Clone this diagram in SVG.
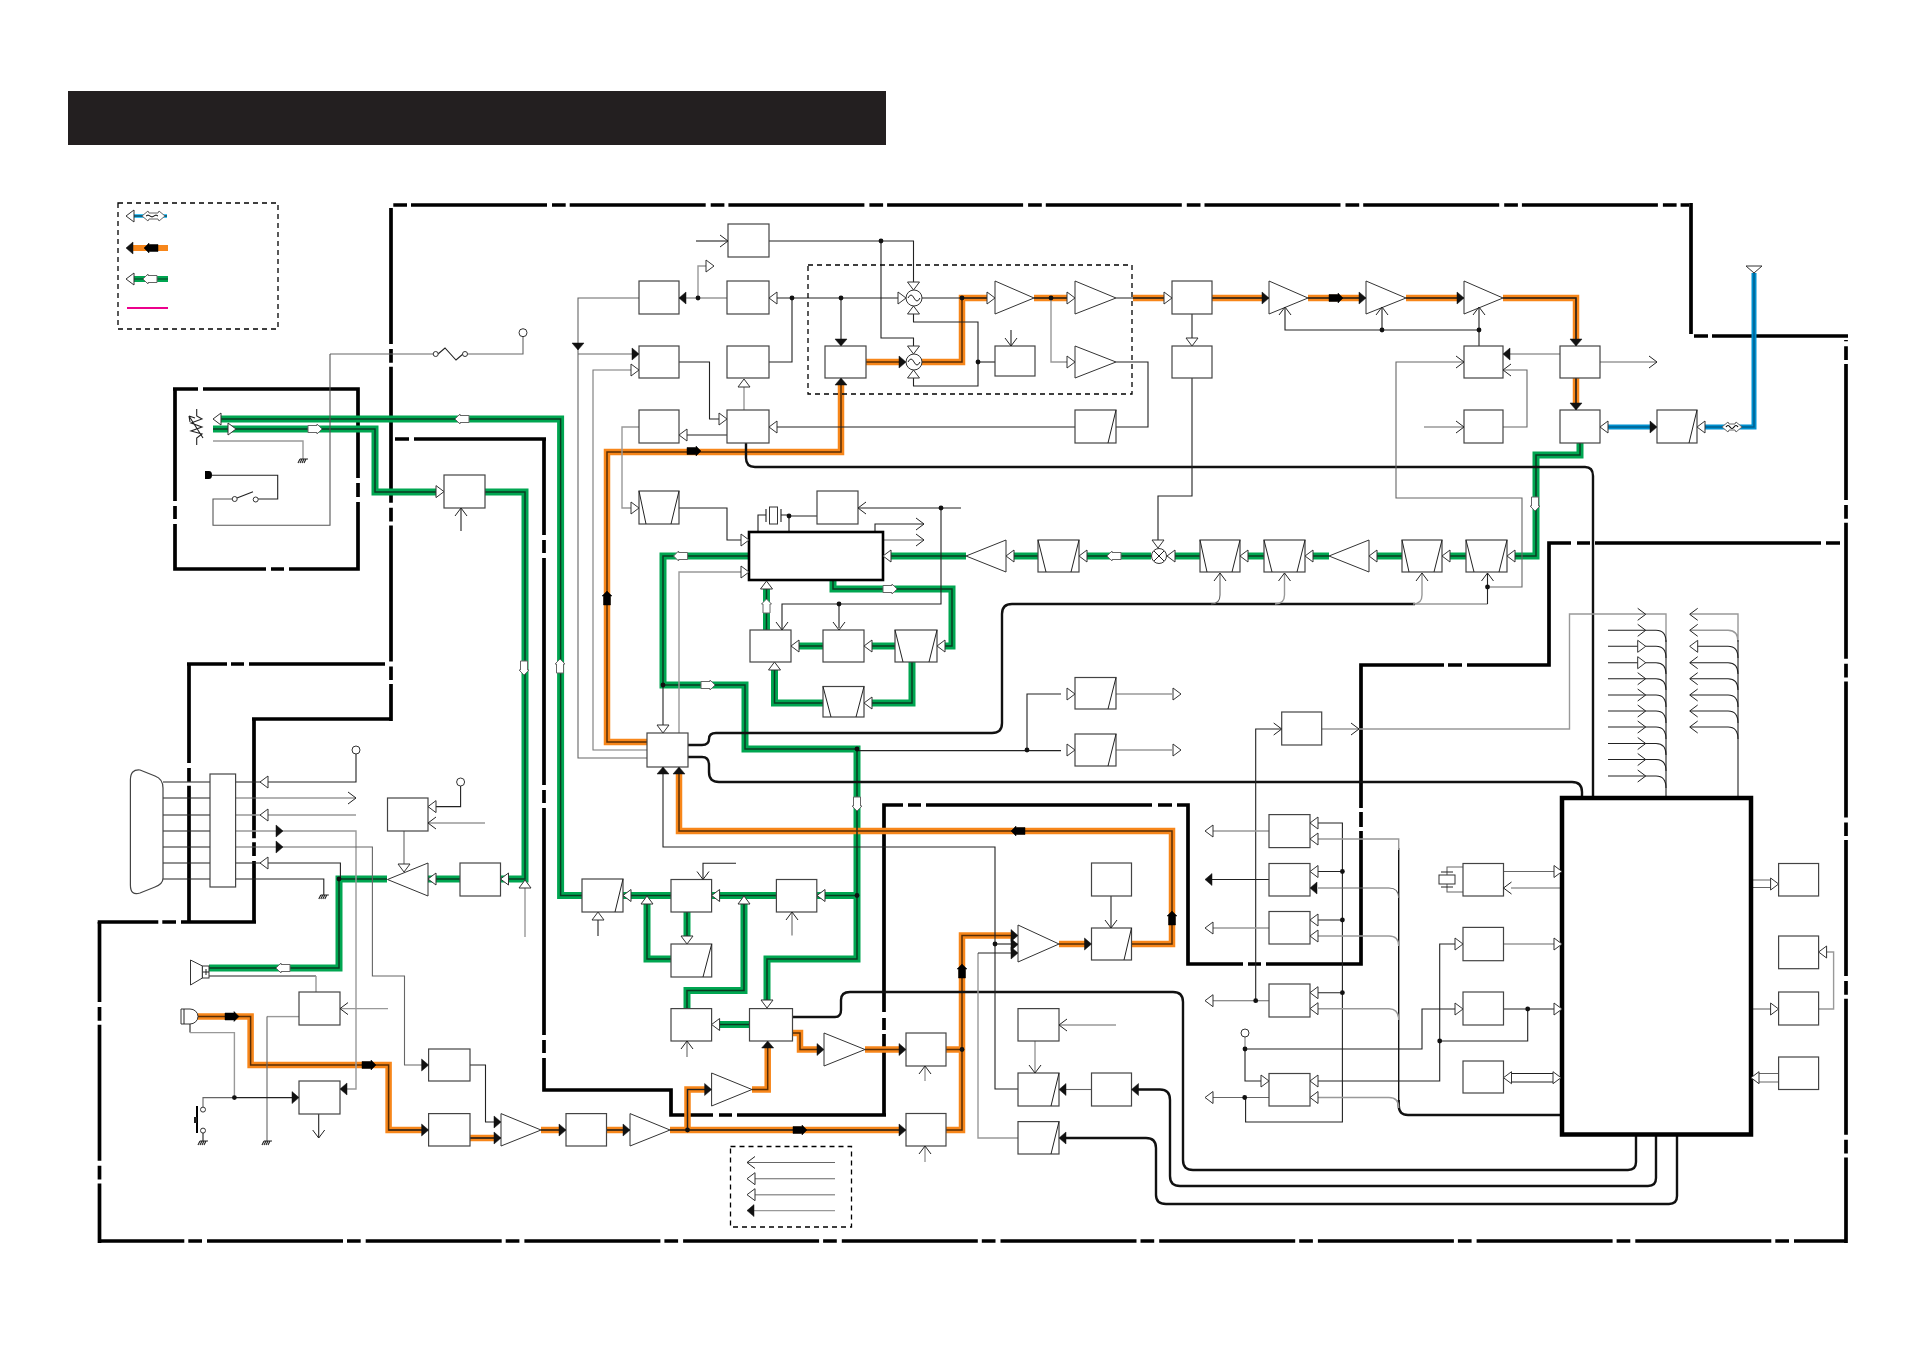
<svg xmlns="http://www.w3.org/2000/svg" width="1910" height="1350" viewBox="0 0 1910 1350">
<style>
.t{stroke:#000;stroke-width:3.7;fill:none}
.w{stroke:#222;stroke-width:1.1;fill:none}
.y{stroke:#999;stroke-width:1.4;fill:none}
.m{stroke:#666;stroke-width:1.1;fill:none}
.k{stroke:#111;stroke-width:2.4;fill:none}
.b{fill:#fff;stroke:#444;stroke-width:1.2}
.a{fill:#fff;stroke:#333;stroke-width:1}
.i{fill:none;stroke:#222;stroke-width:1}
.d{fill:none;stroke:#000;stroke-width:1.3;stroke-dasharray:5 4}
.hh{fill:#fff;stroke:#333;stroke-width:1}
.fh{fill:#111;stroke:#111;stroke-width:.5}
.oh{fill:none;stroke:#222;stroke-width:1}
.bw{fill:#fff;stroke:#666;stroke-width:1}
.bk{fill:#000;stroke:#000;stroke-width:.5}
</style>
<defs>
<polygon id="hr" class="hh" points="0,0 -8,-6 -8,6"/><polygon id="hl" class="hh" points="0,0 8,-6 8,6"/><polygon id="hu" class="hh" points="0,0 -6,8 6,8"/><polygon id="hd" class="hh" points="0,0 -6,-8 6,-8"/>
<polygon id="fr" class="fh" points="0,0 -7,-6 -7,6"/><polygon id="fl" class="fh" points="0,0 7,-6 7,6"/><polygon id="fu" class="fh" points="0,0 -6,7 6,7"/><polygon id="fd" class="fh" points="0,0 -6,-7 6,-7"/>
<polyline id="or" class="oh" points="-8,-6 0,0 -8,6"/><polyline id="ol" class="oh" points="8,-6 0,0 8,6"/><polyline id="ou" class="oh" points="-6,8 0,0 6,8"/><polyline id="od" class="oh" points="-6,-8 0,0 6,-8"/>
<polygon id="wr" class="bw" points="-7,-3.5 2,-3.5 2,-5 7,0 2,5 2,3.5 -7,3.5"/><polygon id="wl" class="bw" points="7,-3.5 -2,-3.5 -2,-5 -7,0 -2,5 -2,3.5 7,3.5"/><polygon id="wu" class="bw" points="-3.5,7 -3.5,-2 -5,-2 0,-7 5,-2 3.5,-2 3.5,7"/><polygon id="wd" class="bw" points="-3.5,-7 -3.5,2 -5,2 0,7 5,2 3.5,2 3.5,-7"/>
<polygon id="kr" class="bk" points="-7,-3.5 2,-3.5 2,-5 7,0 2,5 2,3.5 -7,3.5"/><polygon id="kl" class="bk" points="7,-3.5 -2,-3.5 -2,-5 -7,0 -2,5 -2,3.5 7,3.5"/><polygon id="ku" class="bk" points="-3.5,7 -3.5,-2 -5,-2 0,-7 5,-2 3.5,-2 3.5,7"/>
<circle id="dot" r="2.4" fill="#111"/>
<path id="gnd" class="w" d="M-3,0H5M-3,0L-5,4M-1,0L-3,4M1,0L-1,4M3,0L1,4"/>
<g id="gp">
<path d="M220,419H560.6V895.5H582"/><path d="M213,429H375V492H437"/><path d="M485,492H525V879H500"/><path d="M460,879H428"/><path d="M387,879H339V968H209"/>
<path d="M623,895.5H671"/><path d="M711,895.5H776"/><path d="M817,895.5H857"/><path d="M749,556H663V685H745V749H857V959H767V1002"/>
<path d="M687,912V938"/><path d="M647,902V959H671"/><path d="M687,1008V990.6H744V902"/><path d="M749.5,1024.5H718"/>
<path d="M833,580V589H952V646H944"/><path d="M895,646H871"/><path d="M823,646H798"/><path d="M912,662V703H871"/><path d="M823,703H774.5V668"/><path d="M766.5,630V587"/>
<path d="M891,556H966"/><path d="M1013,556H1038"/><path d="M1086,556H1151"/><path d="M1173,556H1200"/><path d="M1247,556H1264"/><path d="M1312,556H1329"/><path d="M1376,556H1402"/><path d="M1449,556H1466"/><path d="M1514,556H1536V455H1580V443"/>
</g>
<g id="op">
<path d="M866,362H899"/><path d="M922,362H962V298H987"/><path d="M1034,298H1068"/><path d="M1133,298H1165"/><path d="M1212,298H1262"/><path d="M1308,298H1359"/><path d="M1406,298H1457"/><path d="M1503,298H1576V340"/><path d="M1576,378V404"/>
<path d="M841,385V452H607V742H647"/><path d="M679,774V831H1172V944H1131"/><path d="M1059,944H1085"/>
<path d="M197,1016.5H250.6V1065H388.6V1130H422"/><path d="M470,1138H495"/><path d="M541,1130H560"/><path d="M606,1130H624"/><path d="M670,1130H900"/><path d="M687.5,1130V1089.5H705"/><path d="M752,1089.5H767.7V1048"/>
<path d="M792.6,1033H800V1049.5H818"/><path d="M865,1049.5H900"/><path d="M946,1049.5H962"/><path d="M946,1130H962V935.5H1012"/>
</g>
<g id="bp"><path d="M1607,427H1650"/><path d="M1704,427H1754V273"/></g>
</defs>

<rect id="titlebar" x="68" y="91" width="818" height="54" fill="#231f20"/>

<g id="frames">
<path class="t" stroke-dasharray="136 5 13.7 4" stroke-dashoffset="138.7" d="M391,205H1689"/>
<path class="t" d="M1691,203V334"/>
<path class="t" d="M1694,336H1708M1712,336H1848"/>
<path class="t" stroke-dasharray="136 5 13.7 4" stroke-dashoffset="-24" d="M1846,340V1243"/>
<path class="t" stroke-dasharray="136 5 13.7 4" stroke-dashoffset="84" d="M1846,1241H99.5"/>
<path class="t" stroke-dasharray="136 5 13.7 4" stroke-dashoffset="56" d="M99.5,922V1243"/>
<path class="t" stroke-dasharray="136 5 13.7 4" stroke-dashoffset="61" d="M256,922H97.7"/>
<path class="t" stroke-dasharray="136 5 13.7 4" stroke-dashoffset="75" d="M254,922V719"/>
<path class="t" d="M252,719H391"/>
<path class="t" stroke-dasharray="136 5 13.7 4" d="M391,208V721"/>
<path class="t" d="M385,664H249M244,664H231M227,664H187"/>
<path class="t" stroke-dasharray="136 5 13.7 4" stroke-dashoffset="37" d="M189,664V924"/>
<path class="t" d="M198,389H173M175,389V501M175,506V519M175,524V569H266M271,569H284M289,569H358V502M358,497V483M358,478V389H203"/>
<path class="t" d="M395,439H409M414,439H546M544,439V535M544,540V553M544,558V785M544,790V803M544,808V1035M544,1040V1053M544,1058V1090H671V1115H713M719,1115H732M737,1115H886M884,1115V1034M884,1030V1018M884,1012V805H903M908,805H921M926,805H1152M1158,805H1172M1177,805H1188V964H1243M1248,964H1261M1266,964H1361V831M1361,827V812M1361,808V665H1444M1448,665H1462M1467,665H1549V543H1571M1577,543H1590M1595,543H1821M1826,543H1840"/>
</g>

<g id="connectors">
<use href="#gp" stroke="#00a651" stroke-width="7" fill="none"/>
<use href="#op" stroke="#f7861a" stroke-width="6.5" fill="none"/>
<use href="#bp" stroke="#0090d0" stroke-width="5" fill="none"/>
<use href="#gp" stroke="#0b3b22" stroke-width="1.5" fill="none"/>
<use href="#op" stroke="#5a2e05" stroke-width="1.5" fill="none"/>
<use href="#bp" stroke="#00608f" stroke-width="1.5" fill="none"/>

<path d="M130,216H167" stroke="#00aeef" stroke-width="3.5" fill="none"/><path d="M130,216H167" class="w"/>
<path d="M132,248H168" stroke="#f7861a" stroke-width="6" fill="none"/>
<path d="M132,279H168" stroke="#00a651" stroke-width="6" fill="none"/><path d="M132,279H168" stroke="#0b3b22" stroke-width="1.2" fill="none"/>
<path d="M127,308H168" stroke="#ec008c" stroke-width="2" fill="none"/>

<path class="k" d="M746,443V458Q746,467 755,467H1585Q1593,467 1593,476V798"/>
<path class="k" d="M688,745H702Q709,745 709,739Q709,733 716,733H992Q1002,733 1002,723V614Q1002,604 1012,604H1415"/>
<path class="k" d="M688,757H702Q709,757 709,765V772Q709,782 719,782H1572Q1582,782 1582,792V798"/>
<path class="k" d="M792,1017H835Q841,1017 841,1010V1000Q841,992 850,992H1173Q1183,992 1183,1002V1160Q1183,1170 1193,1170H1628Q1636,1170 1636,1162V1134"/>
<path class="k" d="M1138,1089.5H1160Q1170,1089.5 1170,1100V1176Q1170,1186 1180,1186H1648Q1656,1186 1656,1178V1134"/>
<path class="k" d="M1066,1138H1146Q1156,1138 1156,1148V1195Q1156,1204 1166,1204H1669Q1677,1204 1677,1196V1134"/>
<path d="M1398.7,848V1105" stroke="#111" stroke-width="1.4" fill="none"/><path class="k" d="M1398.7,1100V1105Q1398.7,1115 1408,1115H1562"/>

<path class="w" d="M696,241H728"/><path class="w" d="M769,241H913.5V284"/><path class="w" d="M881,241V338H913.5V348"/>
<path class="w" d="M769,298H906"/><path class="w" d="M792,298V362H769"/><path class="w" d="M841,298V340"/>
<path class="w" d="M913.5,306V322H978V386H913.5V378"/><path class="w" d="M978,362H995"/><path class="w" d="M1011,330V346"/>
<path class="w" d="M922,298H995"/><path class="w" d="M1034,298H1075"/><path class="y" d="M1051,298V362H1068"/><path class="w" d="M1116,298H1172"/>
<path class="w" d="M1116,362H1148V427H1116"/><path class="w" d="M1075,427H775"/>
<path class="y" d="M744,410V386"/><path class="w" d="M727,435H687"/><path class="w" d="M679,362H709.5V419H720"/>
<path class="m" d="M727,298H679"/><path class="y" d="M698,298V266H706"/><path class="m" d="M639,298H578V758H647"/>
<path class="m" d="M578,354H634"/><path class="w" d="M639,370H593V750H647" style="stroke:#777"/>
<path class="y" d="M639,427H622V508H632"/><path class="w" d="M679,508H727V540H742"/>
<path class="w" d="M758,532V515H766M781,515H789V532M789,516H817"/>
<path class="w" d="M858,508H961"/><path class="w" d="M941,508V604H782V632"/><path class="w" d="M839,604V628"/>
<path class="w" d="M875,532V524H924"/><path class="y" d="M883,540H924"/>
<path class="y" d="M749,572H679V733"/><path class="w" d="M663,685V725"/>
<path class="w" d="M1192,314V340"/><path class="w" d="M1192,378V496H1158V541"/>
<path class="w" d="M1212,298H1269M1308,298H1366M1406,298H1464M1503,298H1576V346M1576,378V410"/>
<path class="w" d="M1285,308V330H1479V346M1382,308V330M1479,308V330"/>
<path class="m" d="M1464,362H1396V498H1522V587H1487.5"/>
<path class="m" d="M1503,370H1527V427H1503"/><path class="y" d="M1424,427H1464"/>
<path class="y" d="M1560,354H1510"/><path class="m" d="M1600,362H1657"/>
<path class="m" d="M1220,573V595Q1220,604 1211,604"/><path class="y" d="M1284.5,573V595Q1284.5,604 1275,604"/><path class="y" d="M1422,573V595Q1422,604 1413,604"/><path class="y" d="M1415,604H1487.5"/><path class="w" d="M1487.5,573V604"/>

<path class="m" d="M330,354H433M468,354H523V337"/><path class="w" d="M330,354V525.3H213V499H232" style="stroke:#555"/>
<path class="w" d="M253,491.7L237,498"/><path class="w" d="M258,499H277.7V475.3H212"/>
<path class="y" d="M213,441H303V459"/>
<path class="w" d="M438,354L445,348L456,360L463,354"/>
<path class="w" d="M196.7,409V416L202,419L191,423L202,427L191,431L202,434L196.7,438V445M203,438L189,416M189,416L190,422M189,416L195,418"/>
<path class="w" d="M461,531V508"/>
<path class="y" d="M525,937V887"/>
<path class="w" d="M163,782H210M163,798H210M163,815H210M163,831H210M163,847H210M163,863H210M163,879H210"/>
<path class="w" d="M235.6,782H356V754"/><path class="m" d="M235.6,798H356"/><path class="y" d="M235.6,815H356"/>
<path class="y" d="M235.6,831H356V1089H347"/><path class="m" d="M235.6,847H372.4V976H404.5V1065H422"/>
<path class="w" d="M235.6,863H340.4V879"/><path class="w" d="M235.6,879H323.8V895"/>
<path class="w" d="M428,806.6H460.6V786"/><path class="y" d="M428,823H485"/><path class="m" d="M404,831V864"/>
<path class="w" d="M209,976H316"/><path class="y" d="M316,976V992"/><path class="y" d="M340,1008.6H388"/><path class="y" d="M299,1016.6H267"/><path class="m" d="M267,1016.6V1141.6"/>
<path class="w" d="M190,1024V1032.6"/><path class="y" d="M190,1032.6H234.4V1097.6"/><path class="m" d="M234.4,1097.6H203V1107"/><path class="w" d="M234.4,1097.6H292"/><path class="w" d="M203,1133V1141.6"/>
<path class="w" d="M318.7,1114V1138"/><path class="w" d="M470,1065H485.5V1122H495"/><path class="w" d="M470,1138H501"/>
<path class="w" d="M388.6,1130H428M541,1130H566M606,1130H630M670,1130H906"/>
<path class="w" d="M687.5,1130V1089.5H711"/>

<path class="w" d="M663,767V847H995V1089H1018"/><path class="w" d="M995,944H1018"/><path class="y" d="M978,953V1138H1018"/><path class="w" d="M978,953H1012"/>
<path class="w" d="M1111,896V928"/><path class="y" d="M1116,1025H1059"/><path class="y" d="M1035,1041V1073"/><path class="m" d="M1091,1089.5H1066"/>
<path class="w" d="M857,750.6H1061"/><path class="w" d="M1027,750V694H1061"/><path class="y" d="M1116,694H1172"/><path class="m" d="M1116,750H1172"/>
<path class="w" d="M736,863.3H703V879"/>
<path class="w" d="M598,936V920"/><path class="m" d="M792,935.5V912"/><path class="m" d="M687,1057V1041"/><path class="y" d="M925,1081V1066"/><path class="y" d="M925,1162V1146"/>
<path class="m" d="M835,1162.5H747"/><path class="m" d="M835,1178.7H752"/><path class="y" d="M835,1194.7H752"/><path class="y" d="M835,1210.6H752"/>

<path class="w" d="M1281.7,729H1255.7V1000.7"/><path class="m" d="M1321.7,729H1359"/><path class="y" d="M1359,729H1569.5V614H1645"/>
<path class="y" d="M1269,831H1210"/><path class="w" d="M1269,879.5H1212"/><path class="y" d="M1269,928H1210"/><path class="m" d="M1269,1000.7H1210"/><path class="m" d="M1269,1097.5H1210"/>
<path class="w" d="M1318,823H1342.4V1122H1245.6V1097.5"/><path class="w" d="M1342.4,871.5H1318M1342.4,920H1318M1342.4,992.7H1318"/>
<path class="y" d="M1318,839H1398.7V850"/><path class="m" d="M1318,888H1389Q1398.7,888 1398.7,898"/><path class="y" d="M1318,936H1389Q1398.7,936 1398.7,946"/><path class="y" d="M1318,1008.7H1389Q1398.7,1008.7 1398.7,1020"/><path class="y" d="M1318,1097.5H1389Q1398.7,1097.5 1398.7,1108"/>
<path class="y" d="M1245,1037V1049"/><path class="w" d="M1245,1049H1422V1009H1456"/><path class="w" d="M1245,1049V1081H1261"/>
<path class="w" d="M1318,1081H1439.7V944H1456"/><path class="w" d="M1439.7,1041H1527.7V1009"/>
<path class="m" d="M1503.5,871.5H1555"/><path class="m" d="M1562,888H1511"/><path class="m" d="M1503.5,944H1555"/><path class="w" d="M1503.5,1009H1555"/>
<path class="w" d="M1510,1073.5H1554M1510,1082H1554"/>
<path class="m" d="M1463,867H1447V875M1463,892H1447V884"/>
<path class="m" d="M1751,880H1771M1751,887.5H1771"/><path class="m" d="M1751,1009H1771"/><path class="y" d="M1818.6,1009H1833.6V952H1826"/>
<path class="m" d="M1778.6,1073.5H1758M1778.6,1082H1758"/>
<path class="y" d="M1645,614H1666V640"/><path class="w" d="M1666,640V798"/>
<path class="w" d="M1608,630.3H1656Q1666,630.3 1666,642M1608,646.3H1656Q1666,646.3 1666,658M1608,662.7H1656Q1666,662.7 1666,674M1608,678.7H1656Q1666,678.7 1666,690M1608,695H1656Q1666,695 1666,707M1608,711H1656Q1666,711 1666,723M1608,727H1656Q1666,727 1666,739M1608,743.5H1656Q1666,743.5 1666,755M1608,759.5H1656Q1666,759.5 1666,771M1608,776H1656Q1666,776 1666,788"/>
<path class="y" d="M1690,614H1738V640M1690,630.3H1728Q1738,630.3 1738,642"/><path class="w" d="M1738,640V798"/>
<path class="w" d="M1696,646.3H1728Q1738,646.3 1738,658M1690,662.7H1728Q1738,662.7 1738,674M1690,678.7H1728Q1738,678.7 1738,690M1690,695H1728Q1738,695 1738,707M1690,711H1728Q1738,711 1738,723M1690,727H1728Q1738,727 1738,739"/>

<circle class="a" cx="523" cy="332.7" r="4"/><circle class="a" cx="356" cy="750" r="4"/><circle class="a" cx="460.6" cy="782" r="4"/><circle class="a" cx="1245" cy="1033" r="4"/>
<circle class="a" cx="435.7" cy="354" r="2.5"/><circle class="a" cx="465" cy="354" r="2.5"/><circle class="a" cx="234.7" cy="499" r="2.5"/><circle class="a" cx="255.7" cy="499.5" r="2.5"/>
<circle class="a" cx="203" cy="1109.6" r="2.5"/><circle class="a" cx="203" cy="1130.6" r="2.5"/>
<path d="M205,471H209Q212,471 212,475Q212,479 209,479H205Z" fill="#000"/>
<path d="M197,1106V1133" stroke="#000" stroke-width="2" fill="none"/><rect x="194" y="1117" width="3" height="6" fill="#222"/>
<use href="#gnd" x="303" y="459"/><use href="#gnd" x="323.8" y="895"/><use href="#gnd" x="267" y="1141"/><use href="#gnd" x="203" y="1141"/>
<path d="M1754,273L1746,266H1762Z" class="a"/>

<g>
<use href="#dot" x="881" y="241"/><use href="#dot" x="792" y="298"/><use href="#dot" x="841" y="298"/><use href="#dot" x="698" y="298"/><use href="#dot" x="962" y="298"/><use href="#dot" x="1051" y="298"/><use href="#dot" x="978" y="362"/><use href="#dot" x="1382" y="330"/><use href="#dot" x="1479" y="330"/><use href="#dot" x="1487.5" y="587"/>
<use href="#dot" x="941" y="508"/><use href="#dot" x="789" y="516"/><use href="#dot" x="839" y="604"/><use href="#dot" x="663" y="685"/><use href="#dot" x="857" y="749"/><use href="#dot" x="1027" y="750"/><use href="#dot" x="857" y="895.5"/>
<use href="#dot" x="339" y="879"/><use href="#dot" x="234.4" y="1097.6"/><use href="#dot" x="687.5" y="1130"/><use href="#dot" x="962" y="1049.5"/><use href="#dot" x="995" y="944"/>
<use href="#dot" x="1342.4" y="871.5"/><use href="#dot" x="1342.4" y="920"/><use href="#dot" x="1342.4" y="992.7"/><use href="#dot" x="1255.7" y="1000.7"/><use href="#dot" x="1245" y="1049"/><use href="#dot" x="1244.7" y="1097.5"/><use href="#dot" x="1439.7" y="1041"/><use href="#dot" x="1527.7" y="1009"/>
</g>
</g>

<g id="legend"><rect class="d" x="118" y="203" width="160" height="126"/></g>
<g id="dashed-section"><rect class="d" x="808" y="265" width="324" height="129"/></g>
<g id="dashed-key"><rect class="d" x="730.5" y="1146.5" width="121" height="80.5"/></g>

<g id="n1"><rect class="b" x="728" y="224" width="41" height="33"/></g>
<g id="n2"><rect class="b" x="639" y="281" width="40" height="33"/></g>
<g id="n3"><rect class="b" x="727" y="281" width="42" height="33"/></g>
<g id="n4"><rect class="b" x="639" y="346" width="40" height="32"/></g>
<g id="n5"><rect class="b" x="727" y="346" width="42" height="32"/></g>
<g id="n6"><rect class="b" x="639" y="410" width="40" height="33"/></g>
<g id="n7"><rect class="b" x="727" y="410" width="42" height="33"/></g>
<g id="n8"><rect class="b" x="825" y="346" width="41" height="32"/></g>
<g id="n9"><rect class="b" x="995" y="346" width="40" height="30"/></g>
<g id="mix1"><circle class="a" cx="914" cy="298" r="8"/><path class="i" d="M908,298Q911,292 914,298T920,298"/></g>
<g id="mix2"><circle class="a" cx="914" cy="362" r="8"/><path class="i" d="M908,362Q911,356 914,362T920,362"/></g>
<g id="amp1"><polygon class="a" points="995,281 1034,298 995,314"/></g>
<g id="amp2"><polygon class="a" points="1075,281 1116,298 1075,314"/></g>
<g id="amp3"><polygon class="a" points="1075,346 1116,362 1075,378"/></g>
<g id="n10"><rect class="b" x="1075" y="410" width="41" height="33"/><path class="i" d="M1116,410L1108,443"/></g>
<g id="t1"><rect class="b" x="639" y="491" width="40" height="33"/><path class="i" d="M639,491L646,524M679,491L671,524"/></g>
<g id="n11"><rect class="b" x="817" y="491" width="41" height="33"/></g>
<g id="ic1"><rect x="749" y="532" width="134" height="48" fill="#fff" stroke="#000" stroke-width="2.6"/></g>
<g id="xtal1"><rect class="a" x="769.5" y="507" width="8" height="17"/><path class="w" d="M766,509V522M781,509V522"/></g>
<g id="amp4"><polygon class="a" points="1006,540 966,556 1006,572"/></g>
<g id="t2"><rect class="b" x="1038" y="540" width="41" height="32"/><path class="i" d="M1038,540L1046,572M1079,540L1071,572"/></g>
<g id="mix3"><circle class="a" cx="1159" cy="556" r="7.5"/><path class="i" d="M1154,551L1164,561M1164,551L1154,561"/></g>
<g id="n12"><rect class="b" x="1172" y="281" width="40" height="33"/></g>
<g id="n13"><rect class="b" x="1172" y="346" width="40" height="32"/></g>
<g id="amp5"><polygon class="a" points="1269,281 1308,298 1269,314"/></g>
<g id="amp6"><polygon class="a" points="1366,281 1406,298 1366,314"/></g>
<g id="amp7"><polygon class="a" points="1464,281 1503,298 1464,314"/></g>
<g id="n14"><rect class="b" x="1464" y="346" width="39" height="32"/></g>
<g id="n15"><rect class="b" x="1560" y="346" width="40" height="32"/></g>
<g id="n16"><rect class="b" x="1464" y="410" width="39" height="33"/></g>
<g id="n17"><rect class="b" x="1560" y="410" width="40" height="33"/></g>
<g id="n18"><rect class="b" x="1657" y="410" width="40" height="33"/><path class="i" d="M1697,410L1689,443"/></g>
<g id="t3"><rect class="b" x="1200" y="540" width="40" height="32"/><path class="i" d="M1200,540L1207,572M1240,540L1232,572"/></g>
<g id="t4"><rect class="b" x="1264" y="540" width="41" height="32"/><path class="i" d="M1264,540L1272,572M1305,540L1297,572"/></g>
<g id="amp8"><polygon class="a" points="1369,540 1329,556 1369,572"/></g>
<g id="t5"><rect class="b" x="1402" y="540" width="40" height="32"/><path class="i" d="M1402,540L1409,572M1442,540L1434,572"/></g>
<g id="t6"><rect class="b" x="1466" y="540" width="41" height="32"/><path class="i" d="M1466,540L1474,572M1507,540L1499,572"/></g>
<g id="c1"><rect class="b" x="750" y="630" width="41" height="32"/></g>
<g id="c2"><rect class="b" x="823" y="630" width="41" height="32"/></g>
<g id="t7"><rect class="b" x="895" y="630" width="42" height="32"/><path class="i" d="M895,630L903,662M937,630L929,662"/></g>
<g id="t8"><rect class="b" x="823" y="686.5" width="41" height="30.5"/><path class="i" d="M823,686.5L831,717M864,686.5L856,717"/></g>
<g id="s1"><rect class="b" x="1075" y="677.5" width="41" height="31.5"/><path class="i" d="M1116,677.5L1108,709"/></g>
<g id="s2"><rect class="b" x="1075" y="734" width="41" height="32"/><path class="i" d="M1116,734L1108,766"/></g>
<g id="n20"><rect class="b" x="647" y="733" width="41" height="34"/></g>
<g id="n21"><rect class="b" x="444" y="475" width="41" height="33"/></g>
<g id="n22"><rect class="b" x="460" y="863" width="40.5" height="33"/></g>
<g id="amp9"><polygon class="a" points="428,863 387.5,879.5 428,896"/></g>
<g id="n23"><rect class="b" x="387.5" y="798" width="40.5" height="33"/></g>
<g id="s3"><rect class="b" x="582" y="879" width="41" height="33"/><path class="i" d="M623,879L615,912"/></g>
<g id="n24"><rect class="b" x="671" y="879.5" width="40.6" height="32.5"/></g>
<g id="n25"><rect class="b" x="776.4" y="879.5" width="40.4" height="32.5"/></g>
<g id="s4"><rect class="b" x="671" y="944" width="40.7" height="33"/><path class="i" d="M711.7,944L703,977"/></g>
<g id="n26"><rect class="b" x="671" y="1008.6" width="40.6" height="32.4"/></g>
<g id="n27"><rect class="b" x="749.5" y="1008.6" width="43" height="32.4"/></g>
<g id="amp10"><polygon class="a" points="711.6,1073 752,1089.5 711.6,1106"/></g>
<g id="amp11"><polygon class="a" points="824,1033 865,1049.5 824,1066"/></g>
<g id="n28"><rect class="b" x="906" y="1033" width="40" height="33"/></g>
<g id="n29"><rect class="b" x="906" y="1113.5" width="40" height="32.5"/></g>
<g id="amp12"><polygon class="a" points="1018,925 1059,944 1018,962"/></g>
<g id="s5"><rect class="b" x="1091.5" y="928" width="40" height="32"/><path class="i" d="M1131.5,928L1124,960"/></g>
<g id="n30"><rect class="b" x="1091.5" y="863" width="40" height="33"/></g>
<g id="n31"><rect class="b" x="1018" y="1008.6" width="41" height="32.4"/></g>
<g id="s6"><rect class="b" x="1018" y="1073" width="41" height="33"/><path class="i" d="M1059,1073L1051,1106"/></g>
<g id="s7"><rect class="b" x="1018" y="1121.6" width="41" height="32.4"/><path class="i" d="M1059,1121.6L1051,1154"/></g>
<g id="n32"><rect class="b" x="1091.5" y="1073" width="40" height="33"/></g>
<g id="n33"><rect class="b" x="428.6" y="1049" width="41.4" height="32"/></g>
<g id="n34"><rect class="b" x="428.6" y="1113.6" width="41.4" height="32.4"/></g>
<g id="amp13"><polygon class="a" points="501,1113.6 541,1130 501,1146"/></g>
<g id="n35"><rect class="b" x="566" y="1113.6" width="40.5" height="32.4"/></g>
<g id="amp14"><polygon class="a" points="630,1113.6 670,1130 630,1146"/></g>
<g id="n36"><rect class="b" x="299" y="992" width="41" height="33"/></g>
<g id="n37"><rect class="b" x="299" y="1081" width="41" height="33"/></g>
<g id="connector-shell"><path class="b" d="M140,770L155,776Q163,779 163,788V878Q163,884 155,887L140,893Q130.4,896 130.4,885V780Q130.4,769 140,770Z"/></g>
<g id="connector-block"><rect class="b" x="210" y="774" width="25.6" height="113"/></g>
<g id="speaker"><polygon class="a" points="190.5,960 202.4,966 202.4,978 190.5,985"/><rect class="a" x="202.4" y="966" width="6.6" height="12"/><path class="i" d="M203,972H209M206,969V975"/></g>
<g id="mic"><path class="a" d="M181,1009H190A8,7.5 0 0 1 190,1024H181Z"/><path class="i" d="M184,1009V1024"/></g>
<g id="n40"><rect class="b" x="1281.7" y="712" width="40" height="33"/></g>
<g id="n41"><rect class="b" x="1269" y="814.6" width="41" height="33"/></g>
<g id="n42"><rect class="b" x="1269" y="863.5" width="41" height="32.5"/></g>
<g id="n43"><rect class="b" x="1269" y="911.5" width="41" height="32.5"/></g>
<g id="n44"><rect class="b" x="1269" y="984" width="41" height="33"/></g>
<g id="n45"><rect class="b" x="1269" y="1073.5" width="41" height="32.5"/></g>
<g id="n46"><rect class="b" x="1463" y="863.5" width="40.5" height="32.5"/></g>
<g id="n47"><rect class="b" x="1463" y="927.4" width="40.5" height="33.3"/></g>
<g id="n48"><rect class="b" x="1463" y="992" width="40.5" height="33"/></g>
<g id="n49"><rect class="b" x="1463" y="1061" width="40.5" height="32"/></g>
<g id="xtal2"><rect class="a" x="1439" y="875" width="16" height="9"/><path class="i" d="M1441,872H1453M1441,887H1453"/></g>
<g id="mcu"><rect x="1562" y="798" width="189" height="336.5" fill="#fff" stroke="#000" stroke-width="4.5"/></g>
<g id="n50"><rect class="b" x="1778.6" y="863.5" width="40" height="32.5"/></g>
<g id="n51"><rect class="b" x="1778.6" y="936" width="40" height="32.7"/></g>
<g id="n52"><rect class="b" x="1778.6" y="992" width="40" height="33"/></g>
<g id="n53"><rect class="b" x="1778.6" y="1057" width="40" height="32.5"/></g>

<g id="arrowheads">
<use href="#hl" x="126" y="216"/><use href="#fl" x="126" y="248"/><use href="#hl" x="126" y="279"/>
<use href="#kl" x="151" y="248"/><use href="#wl" x="150" y="279"/>
<polygon class="bw" points="142,216 148,211 149,213 158,213 159,211 165,216 159,221 158,219 149,219 148,221"/><path d="M146,216q2,-2 4,0t4,0t4,0" fill="none" stroke="#000" stroke-width="1"/>
<polygon class="bw" points="1722,427 1728,422 1729,424 1735,424 1736,422 1742,427 1736,432 1735,430 1729,430 1728,432"/><path d="M1726,427q2,-3 4,0t4,0t4,0" fill="none" stroke="#000" stroke-width="1.2"/>

<use href="#or" x="728" y="241"/><use href="#hd" x="913.5" y="290"/><use href="#hu" x="913.5" y="306"/><use href="#hr" x="906" y="298"/>
<use href="#hd" x="913.5" y="354"/><use href="#hu" x="913.5" y="370"/><use href="#fr" x="906" y="362"/>
<use href="#hr" x="995" y="298"/><use href="#hr" x="1075" y="298"/><use href="#hr" x="1075" y="362"/><use href="#hr" x="1172" y="298"/>
<use href="#od" x="1011" y="346"/><use href="#fd" x="841" y="346"/><use href="#fu" x="841" y="378"/><use href="#kr" x="694" y="451"/><use href="#ku" x="607" y="598"/>
<use href="#hl" x="769" y="298"/><use href="#fl" x="679" y="298"/><use href="#hr" x="714" y="266"/>
<use href="#fd" x="578" y="350"/><use href="#fr" x="639" y="354"/><use href="#hr" x="639" y="370"/>
<use href="#hu" x="744" y="379"/><use href="#hl" x="679" y="435"/><use href="#hr" x="727" y="419"/><use href="#hl" x="769" y="427"/>
<use href="#hr" x="639" y="508"/><use href="#hr" x="749" y="540"/><use href="#hr" x="749" y="572"/><use href="#ol" x="858" y="508"/><use href="#or" x="924" y="524"/><use href="#or" x="924" y="540"/>
<use href="#hu" x="766.5" y="581"/><use href="#wu" x="766.5" y="606"/><use href="#wl" x="680.6" y="556"/><use href="#wr" x="890" y="589"/><use href="#hl" x="883" y="556"/>
<use href="#hl" x="1006" y="556"/><use href="#hl" x="1079" y="556"/><use href="#wl" x="1114" y="556"/><use href="#hd" x="1158" y="548"/><use href="#hl" x="1167" y="556"/>
<use href="#hl" x="1240" y="556"/><use href="#hl" x="1305" y="556"/><use href="#hl" x="1369" y="556"/><use href="#hl" x="1442" y="556"/><use href="#hl" x="1507" y="556"/>
<use href="#fr" x="1269" y="298"/><use href="#kr" x="1336" y="298"/><use href="#fr" x="1366" y="298"/><use href="#fr" x="1464" y="298"/>
<use href="#ou" x="1285" y="307"/><use href="#ou" x="1382" y="307"/><use href="#ou" x="1479" y="307"/>
<use href="#fd" x="1576" y="346"/><use href="#fd" x="1576" y="410"/><use href="#fl" x="1503" y="354"/><use href="#or" x="1657" y="362"/>
<use href="#or" x="1464" y="362"/><use href="#ol" x="1503" y="370"/><use href="#or" x="1464" y="427"/>
<use href="#hl" x="1600" y="427"/><use href="#fr" x="1657" y="427"/><use href="#hl" x="1697" y="427"/>
<use href="#hd" x="1192" y="346"/>
<use href="#ou" x="1220" y="573"/><use href="#ou" x="1284.5" y="573"/><use href="#ou" x="1422" y="573"/><use href="#ou" x="1487.5" y="573"/>
<use href="#wd" x="1535" y="504"/>

<use href="#hl" x="213" y="419"/><use href="#hr" x="236" y="429"/><use href="#wl" x="462" y="419"/><use href="#wr" x="315" y="429"/><use href="#hr" x="444" y="491.6"/><use href="#ou" x="461" y="508"/>
<use href="#wd" x="524" y="668"/><use href="#wu" x="560" y="666"/>
<use href="#hu" x="525" y="880"/><use href="#hl" x="500.5" y="879"/><use href="#hl" x="428" y="879"/><use href="#hd" x="404" y="872"/>
<use href="#wl" x="283" y="968"/>
<use href="#hl" x="428" y="806.6"/><use href="#ol" x="428" y="823"/>
<use href="#hl" x="260" y="782"/><use href="#or" x="356" y="798"/><use href="#hl" x="260" y="815"/><use href="#fr" x="283" y="831"/><use href="#fr" x="283" y="847"/><use href="#hl" x="260" y="863"/>
<use href="#kr" x="232" y="1016.5"/><use href="#kr" x="369" y="1065"/><use href="#ol" x="340" y="1008.6"/><use href="#fl" x="340" y="1089"/><use href="#fr" x="299" y="1097.6"/><use href="#od" x="318.7" y="1138"/>
<use href="#fr" x="428.6" y="1065"/><use href="#fr" x="428.6" y="1130"/><use href="#fr" x="501" y="1122"/><use href="#fr" x="501" y="1138"/><use href="#fr" x="566" y="1130"/><use href="#fr" x="630" y="1130"/>

<use href="#hd" x="663" y="733"/><use href="#fu" x="663" y="767"/><use href="#fu" x="679" y="767"/>
<use href="#wr" x="708" y="685"/><use href="#wd" x="857" y="804"/>
<use href="#hl" x="864" y="646"/><use href="#hl" x="791" y="646"/><use href="#hl" x="937" y="646"/><use href="#hl" x="864" y="703"/><use href="#hu" x="774.5" y="662"/>
<use href="#od" x="782" y="630"/><use href="#od" x="839" y="630"/>
<use href="#hr" x="1075" y="694"/><use href="#hr" x="1075" y="750"/><use href="#hr" x="1181" y="694"/><use href="#hr" x="1181" y="750"/>
<use href="#hl" x="817" y="895.5"/><use href="#hl" x="711.6" y="895.5"/><use href="#hl" x="623" y="895.5"/><use href="#hu" x="647" y="896"/><use href="#hu" x="744" y="896"/><use href="#hd" x="687" y="944"/><use href="#hu" x="598" y="912"/><use href="#od" x="703" y="879.5"/>
<use href="#ou" x="792" y="912"/><use href="#ou" x="687" y="1041"/><use href="#hl" x="711.6" y="1024.5"/><use href="#hd" x="767" y="1008"/>
<use href="#fr" x="711.6" y="1089.5"/><use href="#fu" x="767.7" y="1041"/><use href="#fr" x="824" y="1049.5"/><use href="#fr" x="906" y="1049.5"/><use href="#fr" x="906" y="1130"/><use href="#kr" x="800" y="1130"/>
<use href="#ou" x="925" y="1066"/><use href="#ou" x="925" y="1146"/><use href="#ku" x="962" y="971"/><use href="#ku" x="1172" y="918"/><use href="#kl" x="1018" y="831"/>
<use href="#fr" x="1018" y="935.5"/><use href="#fr" x="1018" y="944.5"/><use href="#fr" x="1018" y="953"/><use href="#fr" x="1091.5" y="944"/><use href="#od" x="1111" y="928"/>
<use href="#ol" x="1059" y="1025"/><use href="#od" x="1035" y="1073"/><use href="#fl" x="1059" y="1089.5"/><use href="#fl" x="1131.5" y="1089.5"/><use href="#fl" x="1059" y="1138"/>
<use href="#ol" x="747" y="1162.5"/><use href="#hl" x="747" y="1178.7"/><use href="#hl" x="747" y="1194.7"/><use href="#fl" x="747" y="1210.6"/>

<use href="#or" x="1281.7" y="729"/><use href="#or" x="1359" y="729"/><use href="#or" x="1645.7" y="614.3"/>
<use href="#hl" x="1205" y="831"/><use href="#fl" x="1205" y="879.5"/><use href="#hl" x="1205" y="928"/><use href="#hl" x="1205" y="1000.7"/><use href="#hl" x="1205" y="1097.5"/>
<use href="#hl" x="1310" y="823"/><use href="#hl" x="1310" y="839"/><use href="#hl" x="1310" y="871.5"/><use href="#fl" x="1310" y="888"/><use href="#hl" x="1310" y="920"/><use href="#hl" x="1310" y="936"/><use href="#hl" x="1310" y="992.7"/><use href="#hl" x="1310" y="1008.7"/><use href="#hl" x="1310" y="1081"/><use href="#hl" x="1310" y="1097.5"/><use href="#hr" x="1269" y="1081"/>
<use href="#hr" x="1463" y="944"/><use href="#hr" x="1463" y="1009"/><use href="#hr" x="1562" y="871.5"/><use href="#ol" x="1503.5" y="888"/><use href="#hr" x="1562" y="944"/><use href="#hr" x="1562" y="1009"/>
<use href="#hr" x="1561" y="1077.7"/><use href="#hl" x="1503.5" y="1077.7"/>
<use href="#hr" x="1778.6" y="884"/><use href="#hr" x="1778.6" y="1009"/><use href="#hl" x="1818.6" y="952"/><use href="#hl" x="1751" y="1077.7"/>
<use href="#or" x="1645.7" y="630.3"/><use href="#hr" x="1645.7" y="646.3"/><use href="#hr" x="1645.7" y="662.7"/><use href="#or" x="1645.7" y="678.7"/><use href="#or" x="1645.7" y="695"/><use href="#or" x="1645.7" y="711"/><use href="#or" x="1645.7" y="727"/><use href="#or" x="1645.7" y="743.5"/><use href="#or" x="1645.7" y="759.5"/><use href="#or" x="1645.7" y="776"/>
<use href="#ol" x="1689.7" y="614.3"/><use href="#ol" x="1689.7" y="630.3"/><use href="#hl" x="1689.7" y="646.3"/><use href="#ol" x="1689.7" y="662.7"/><use href="#ol" x="1689.7" y="678.7"/><use href="#ol" x="1689.7" y="695"/><use href="#ol" x="1689.7" y="711"/><use href="#ol" x="1689.7" y="727"/>
</g>
</svg>
